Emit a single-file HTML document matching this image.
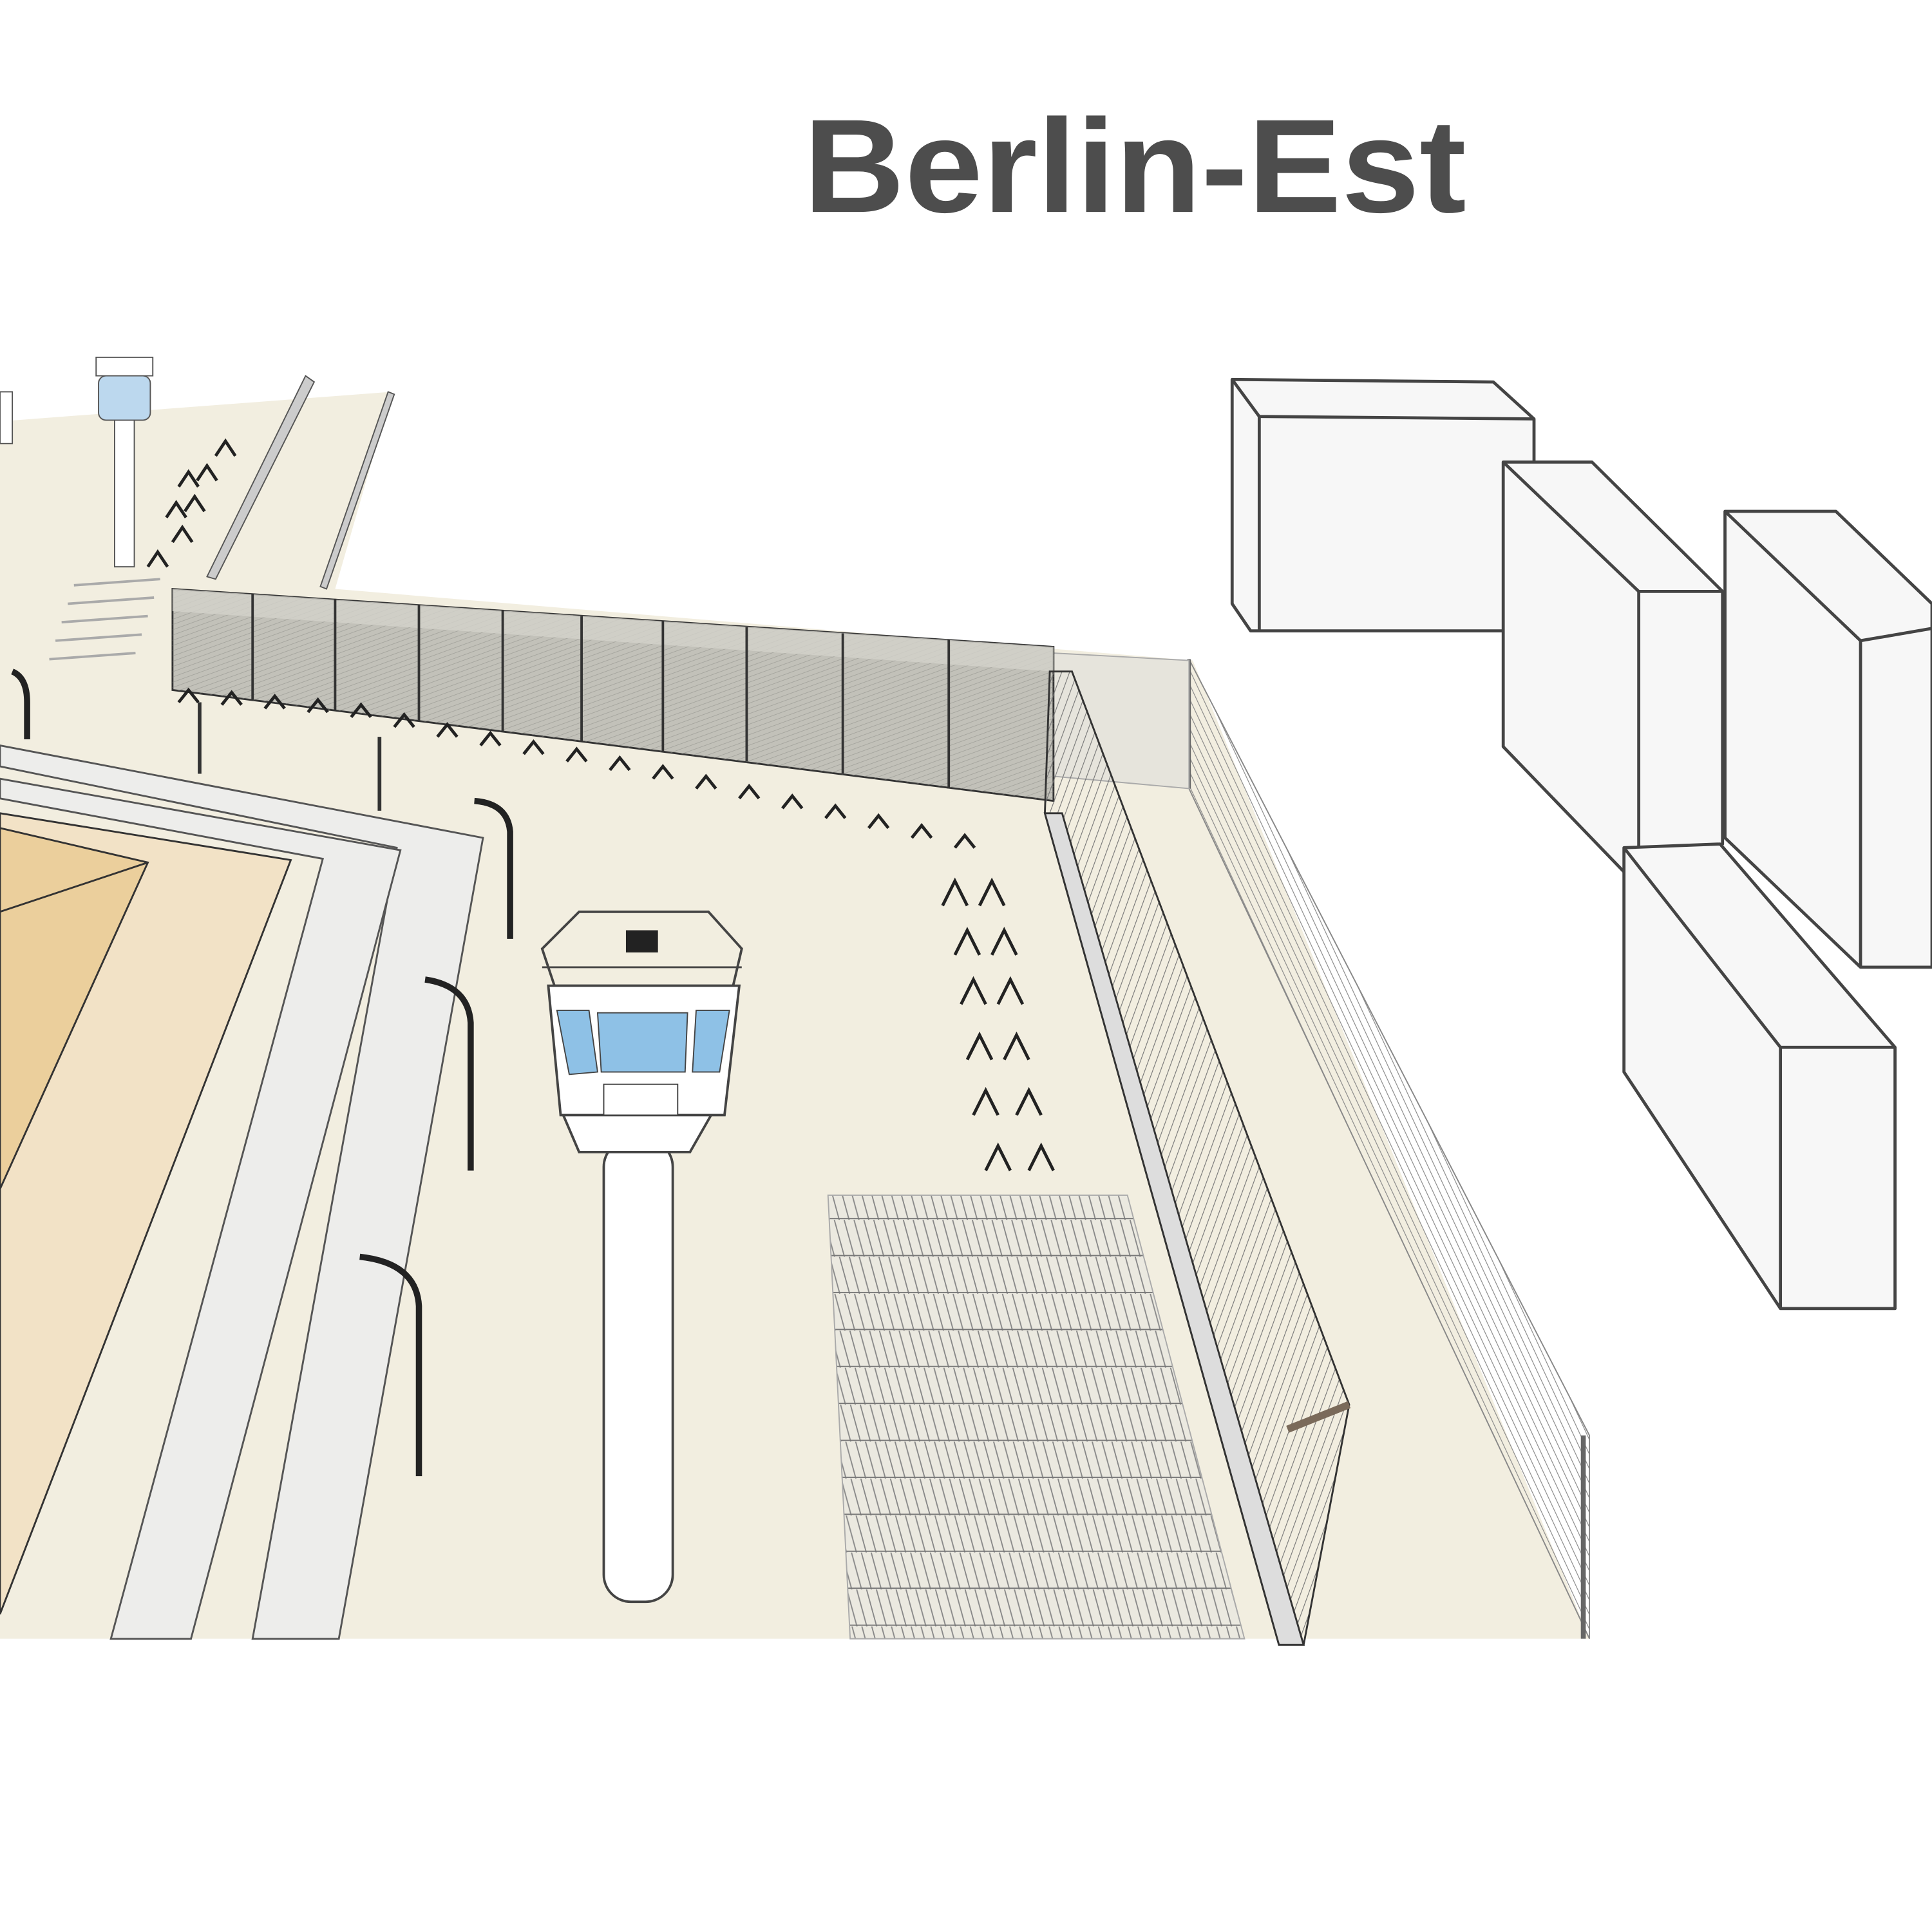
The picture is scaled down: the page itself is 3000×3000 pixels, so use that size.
<!DOCTYPE html>
<html><head><meta charset="utf-8"><style>
html,body{margin:0;padding:0;background:#fff;width:3000px;height:3000px;overflow:hidden}
svg{display:block}
</style></head><body>
<svg width="3000" height="3000" viewBox="0 0 1568 1568" xmlns="http://www.w3.org/2000/svg">
<defs>
<pattern id="hatch" width="6" height="6" patternUnits="userSpaceOnUse" patternTransform="rotate(20)">
<line x1="0" y1="0" x2="0" y2="6" stroke="#777" stroke-width="1.2"/></pattern>
<pattern id="hatch2" width="5" height="5" patternUnits="userSpaceOnUse" patternTransform="rotate(-25)">
<line x1="0" y1="0" x2="0" y2="5" stroke="#888" stroke-width="1.2"/></pattern>
<pattern id="hatch3" width="4" height="4" patternUnits="userSpaceOnUse" patternTransform="rotate(70)">
<line x1="0" y1="0" x2="0" y2="4" stroke="#8a8a84" stroke-width="1"/></pattern>
<pattern id="grid" width="8" height="30" patternUnits="userSpaceOnUse" patternTransform="skewX(8)">
<rect width="8" height="30" fill="#ebe9e0"/>
<line x1="2" y1="0" x2="6" y2="30" stroke="#888" stroke-width="1"/>
<line x1="0" y1="29" x2="8" y2="29" stroke="#777" stroke-width="1"/></pattern>
</defs>
<rect width="1568" height="1568" fill="#fff"/>
<text x="652" y="172" font-family="Liberation Sans, sans-serif" font-weight="bold" font-size="108" fill="#4d4d4d" textLength="538" lengthAdjust="spacingAndGlyphs">Berlin-Est</text>

<polygon points="0,342 318,318 272,478 968,536 1290,1330 0,1330" fill="#f2eee0"/>
<polygon points="0,605 392,680 275,1330 205,1330 322,688 0,622" fill="#ededeb" stroke="#555" stroke-width="1.5"/>
<polygon points="0,632 325,690 155,1330 90,1330 262,697 0,648" fill="#ededeb" stroke="#555" stroke-width="1.5"/>
<polygon points="0,660 236,698 0,1310" fill="#f2e2c6" stroke="#333" stroke-width="1.5"/>
<polygon points="0,672 120,700 0,965" fill="#ebcf9c" stroke="#333" stroke-width="1.5"/>
<line x1="0" y1="740" x2="120" y2="700" stroke="#333" stroke-width="1.5"/>

<polygon points="672,970 915,970 1010,1330 690,1330" fill="url(#grid)" stroke="#aaa"/>

<polygon points="965,535 1290,1165 1290,1330 965,640" fill="url(#hatch2)" stroke="#888" stroke-width="1"/>
<line x1="965" y1="535" x2="965" y2="640" stroke="#666" stroke-width="3"/>
<line x1="1285" y1="1165" x2="1285" y2="1330" stroke="#666" stroke-width="4"/>
<polygon points="855,530 965,536 965,640 855,630" fill="#e6e4dc" stroke="#aaa"/>

<polygon points="140,478 855,525 855,650 140,560" fill="#c2c1b9" stroke="#333" stroke-width="1.5"/>
<polygon points="140,478 855,525 855,650 140,560" fill="url(#hatch3)" opacity="0.5"/>
<polygon points="140,478 855,525 855,545 140,496" fill="#d3d2ca" opacity="0.8"/>
<g stroke="#333" stroke-width="2">
<line x1="205" y1="482" x2="205" y2="568"/><line x1="272" y1="486" x2="272" y2="577"/>
<line x1="340" y1="491" x2="340" y2="585"/><line x1="408" y1="495" x2="408" y2="594"/>
<line x1="472" y1="500" x2="472" y2="602"/><line x1="538" y1="504" x2="538" y2="610"/>
<line x1="606" y1="509" x2="606" y2="618"/><line x1="684" y1="514" x2="684" y2="628"/>
<line x1="770" y1="519" x2="770" y2="640"/></g>

<polygon points="852,545 870,545 1095,1140 1058,1335 1038,1335 848,660" fill="url(#hatch)" stroke="#333" stroke-width="1.5"/>
<polygon points="848,660 862,660 1058,1335 1038,1335" fill="#ddd" stroke="#333" stroke-width="1.5"/>
<line x1="1045" y1="1160" x2="1095" y2="1140" stroke="#7a6a5a" stroke-width="6"/>

<polygon points="248,305 255,310 175,470 168,468" fill="#ccc" stroke="#555"/>
<polygon points="315,318 320,320 265,478 260,476" fill="#ccc" stroke="#555"/>
<g stroke="#aaa" stroke-width="2">
<line x1="40" y1="535" x2="110" y2="530"/><line x1="45" y1="520" x2="115" y2="515"/>
<line x1="50" y1="505" x2="120" y2="500"/><line x1="55" y1="490" x2="125" y2="485"/><line x1="60" y1="475" x2="130" y2="470"/></g>

<rect x="93" y="340" width="16" height="120" fill="#fff" stroke="#555"/>
<rect x="80" y="305" width="42" height="36" rx="6" fill="#bcd8ee" stroke="#555"/>
<rect x="78" y="290" width="46" height="15" fill="#fff" stroke="#555"/>
<rect x="0" y="318" width="10" height="42" fill="#fff" stroke="#555"/>

<g stroke="#222" stroke-width="2.5" fill="none">
<path d="M145,570l8,-10l8,10M180,572l8,-10l8,10M215,575l8,-10l8,10M250,578l8,-10l8,10M285,582l8,-10l8,10M320,590l8,-10l8,10M355,598l8,-10l8,10M390,605l8,-10l8,10M425,612l8,-10l8,10M460,618l8,-10l8,10M495,625l8,-10l8,10M530,632l8,-10l8,10M565,640l8,-10l8,10M600,648l8,-10l8,10M635,656l8,-10l8,10M670,664l8,-10l8,10M705,672l8,-10l8,10M740,680l8,-10l8,10M775,688l8,-10l8,10"/>
<path d="M765,735l10,-20l10,20M795,735l10,-20l10,20M775,775l10,-20l10,20M805,775l10,-20l10,20M780,815l10,-20l10,20M810,815l10,-20l10,20M785,860l10,-20l10,20M815,860l10,-20l10,20M790,905l10,-20l10,20M825,905l10,-20l10,20M800,950l10,-20l10,20M835,950l10,-20l10,20"/>
<path d="M120,460l8,-12l8,12M140,440l8,-12l8,12M150,415l8,-12l8,12M160,390l8,-12l8,12M175,370l8,-12l8,12M135,420l8,-12l8,12M145,395l8,-12l8,12"/>
</g>

<g stroke="#222" stroke-width="5" fill="none">
<path d="M385,650 Q412,652 414,675 L414,762"/>
<path d="M345,795 Q380,800 382,830 L382,950"/>
<path d="M292,1020 Q338,1025 340,1060 L340,1198"/>
<path d="M10,545 Q22,550 22,570 L22,600"/>
</g>
<g stroke="#333" stroke-width="3"><line x1="162" y1="570" x2="162" y2="628"/><line x1="308" y1="598" x2="308" y2="658"/></g>

<rect x="490" y="925" width="56" height="375" rx="22" fill="#fff" stroke="#444" stroke-width="2"/>
<polygon points="455,900 580,900 560,935 470,935" fill="#fff" stroke="#444" stroke-width="2"/>
<polygon points="445,800 600,800 588,905 455,905" fill="#fff" stroke="#444" stroke-width="2"/>
<polygon points="452,820 478,820 485,870 462,872" fill="#8ec1e6" stroke="#444"/>
<polygon points="485,822 558,822 556,870 488,870" fill="#8ec1e6" stroke="#444"/>
<polygon points="565,820 592,820 584,870 562,870" fill="#8ec1e6" stroke="#444"/>
<rect x="490" y="880" width="60" height="25" fill="#fff" stroke="#444"/>
<polygon points="440,770 470,740 575,740 602,770 595,800 450,800" fill="none" stroke="#444" stroke-width="2"/>
<line x1="440" y1="785" x2="602" y2="785" stroke="#444" stroke-width="1.5"/>
<rect x="508" y="755" width="26" height="18" fill="#222"/>

<g fill="#f7f7f7" stroke="#444" stroke-width="2.5" stroke-linejoin="round">
<polygon points="1000,308 1212,310 1245,340 1245,512 1015,512 1000,490"/>
<polyline points="1000,308 1022,338 1245,340" fill="none"/>
<line x1="1022" y1="338" x2="1022" y2="512"/>
<polygon points="1220,375 1292,375 1398,480 1398,685 1330,720 1220,606"/>
<polyline points="1220,375 1330,480 1398,480" fill="none"/><line x1="1330" y1="480" x2="1330" y2="720"/>
<polygon points="1400,415 1490,415 1568,490 1568,785 1510,785 1400,680"/>
<polyline points="1400,415 1510,520 1568,510" fill="none"/><line x1="1510" y1="520" x2="1510" y2="785"/>
<polygon points="1318,688 1396,685 1538,850 1538,1062 1445,1062 1318,870"/>
<polyline points="1318,688 1445,850 1538,850" fill="none"/><line x1="1445" y1="850" x2="1445" y2="1062"/>
</g>
</svg>
</body></html>
